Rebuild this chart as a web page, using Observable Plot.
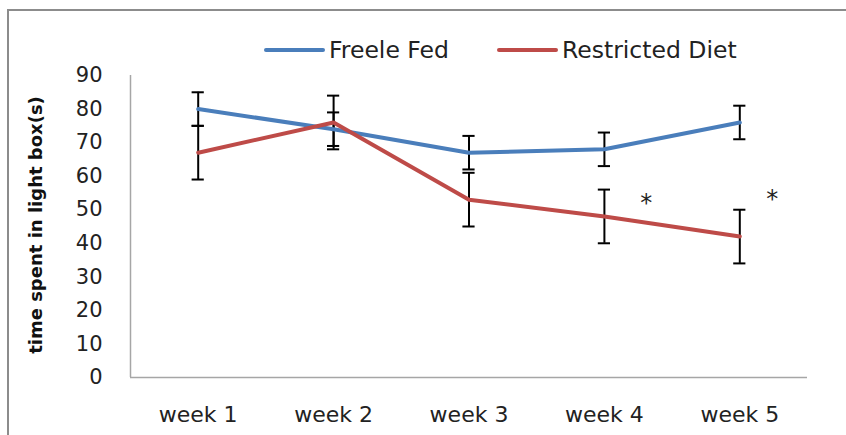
<!DOCTYPE html>
<html>
<head>
<meta charset="utf-8">
<script src="https://cdn.jsdelivr.net/npm/d3@7"></script>
<script src="https://cdn.jsdelivr.net/npm/@observablehq/plot@0.6"></script>
<style>
  html, body { margin: 0; padding: 0; background: #fff; overflow: hidden; }
  #wrap { position: relative; width: 846px; height: 435px; }
  #border { position: absolute; left: 7px; top: 9px; width: 900px; height: 500px; border: 2px solid #8c8c8c; box-sizing: border-box; }
  #chart { position: absolute; left: 0; top: 0; }
  #legend { position: absolute; top: 36px; left: 264px; font-family: "DejaVu Sans", sans-serif; font-size: 23.5px; line-height: 28px; color: #222; display: flex; align-items: center; white-space: nowrap; }
  .item { display: flex; align-items: center; margin-right: 48px; }
  .sw { width: 61px; height: 4px; margin-right: 4px; border-radius: 2px; }
</style>
</head>
<body>
<div id="wrap">
  <div id="border"></div>
  <div id="chart"></div>
  <div id="legend"></div>
</div>
<script>
const weeks = [1, 2, 3, 4, 5];
const weekLabels = ["week 1", "week 2", "week 3", "week 4", "week 5"];
const seriesNames = ["Freele Fed", "Restricted Diet"];
const seriesColors = ["#4a7ebb", "#be4b48"];
const freeFed = [80, 74, 67, 68, 76];
const freeFedErr = [5, 5, 5, 5, 5];
const restricted = [67, 76, 53, 48, 42];
const restrictedErr = [8, 8, 8, 8, 8];
const starX = [4.31, 5.24];
const starY = [52, 53];

const rows = [];
weeks.forEach((w, i) => {
  rows.push({week: w, series: seriesNames[0], value: freeFed[i], err: freeFedErr[i]});
  rows.push({week: w, series: seriesNames[1], value: restricted[i], err: restrictedErr[i]});
});
const stars = starX.map((x, i) => ({x, y: starY[i]}));
const capHalf = 0.045;

const plot = Plot.plot({
  width: 846,
  height: 435,
  marginLeft: 130,
  marginRight: 39,
  marginTop: 75,
  marginBottom: 58,
  style: {fontFamily: "DejaVu Sans, sans-serif", fontSize: "21px", color: "#222", background: "transparent"},
  x: {domain: [0.5, 5.5]},
  y: {domain: [0, 90]},
  color: {domain: seriesNames, range: seriesColors},
  marks: [
    Plot.axisY({ticks: d3.range(0, 91, 10), tickSize: 0, tickPadding: 28, label: null, fontSize: 21}),
    Plot.axisX({ticks: weeks, tickSize: 0, tickPadding: 29, tickFormat: d => weekLabels[d - 1], label: null, fontSize: 22}),
    Plot.ruleX([0.5], {y1: 0, y2: 90, stroke: "#a6a6a6", strokeWidth: 1.5}),
    Plot.ruleY([0], {stroke: "#a6a6a6", strokeWidth: 1.5}),
    Plot.ruleX(rows, {x: "week", y1: d => d.value - d.err, y2: d => d.value + d.err, stroke: "#000", strokeWidth: 2}),
    Plot.ruleY(rows, {y: d => d.value - d.err, x1: d => d.week - capHalf, x2: d => d.week + capHalf, stroke: "#000", strokeWidth: 2}),
    Plot.ruleY(rows, {y: d => d.value + d.err, x1: d => d.week - capHalf, x2: d => d.week + capHalf, stroke: "#000", strokeWidth: 2}),
    Plot.line(rows, {x: "week", y: "value", z: "series", stroke: "series", strokeWidth: 4}),
    Plot.text(stars, {x: "x", y: "y", text: () => "*", fontSize: 24, fill: "#222"})
  ]
});
document.getElementById("chart").appendChild(plot);

// y-axis title
const svg = d3.select(plot);
svg.append("text")
  .attr("transform", "translate(42,225) rotate(-90)")
  .attr("text-anchor", "middle")
  .attr("font-family", "DejaVu Sans, sans-serif")
  .attr("font-weight", "bold")
  .attr("font-size", 18)
  .attr("fill", "#111")
  .text("time spent in light box(s)");

const legend = document.getElementById("legend");
seriesNames.forEach((name, i) => {
  const item = document.createElement("div");
  item.className = "item";
  const sw = document.createElement("div");
  sw.className = "sw";
  sw.style.background = seriesColors[i];
  item.appendChild(sw);
  const t = document.createElement("span");
  t.textContent = name;
  item.appendChild(t);
  legend.appendChild(item);
});
</script>
</body>
</html>
